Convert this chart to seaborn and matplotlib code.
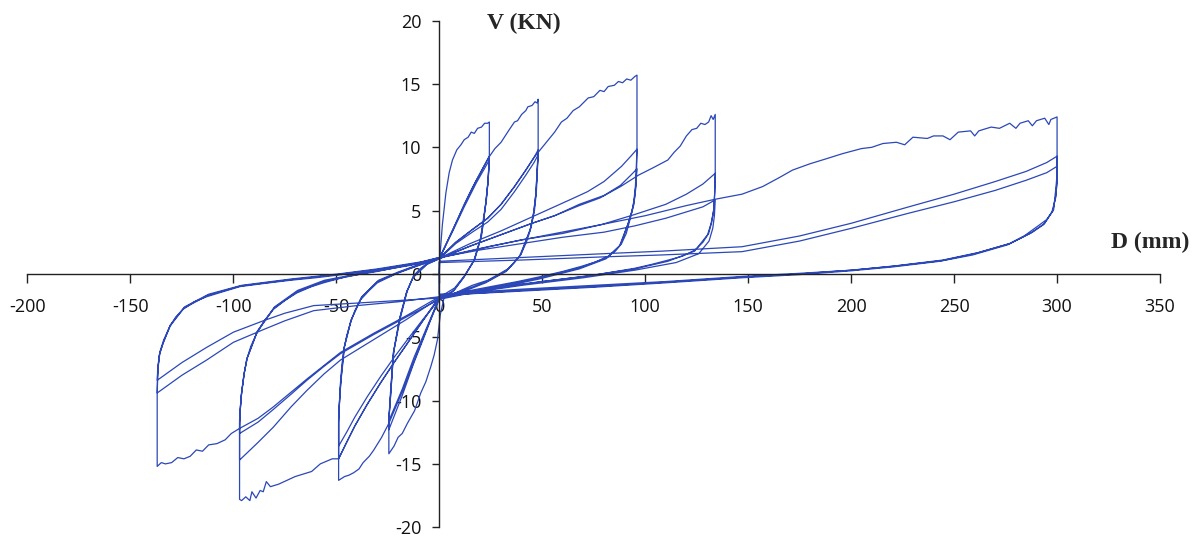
import pandas as pd
import matplotlib
matplotlib.use("Agg")
import matplotlib.pyplot as plt
import seaborn as sns

sns.set_style("white")
plt.rcParams['font.family'] = ['Open Sans', 'DejaVu Sans']
plt.rcParams['axes.unicode_minus'] = False

# --- lecture des points sur la courbe (D en mm, V en kN), cycle par cycle ---
# chaque cycle : chargement +, dechargement, chargement -, dechargement

# palier +24 / -25 mm
cycle_24_1 = [(0, 0), (0.4, 1.6), (1.5, 3.9), (3.2, 6.4), (4.8, 8.0), (6.4, 9.0), (8.5, 9.8), (10.5, 10.2),
              (12.1, 10.6), (14, 10.8), (15.5, 11.2), (17, 11.1), (18.6, 11.5), (20.5, 11.6), (22, 11.9),
              (23.5, 11.9), (24.3, 12.0),
              (24.3, 9.3), (23.7, 7.4), (22.7, 5.8), (21.5, 4.2), (20.2, 2.9), (17, 1.1), (12.1, -0.2),
              (7.2, -1.3), (2.3, -1.9), (0.5, -3.2),
              (-0.9, -5.2), (-2.5, -6.4), (-4.1, -7.3), (-6.5, -8.5), (-9, -9.4), (-12, -10.8), (-15.5, -11.8),
              (-18, -12.6), (-20, -12.9), (-22, -13.6), (-24.5, -14.2),
              (-24.5, -11.6), (-23.7, -9.7), (-22.8, -7.6), (-22, -6.0), (-18.8, -3.4), (-15.5, -1.3),
              (-12.3, -0.1), (-9, 0.45), (-5.8, 0.85), (0, 1.25)]
cycle_24_2 = [(0, 1.25), (4, 2.6), (8, 4.0), (12.1, 5.5), (16, 6.8), (20, 8.0), (24.3, 9.3),
              (23.8, 7.6), (22.9, 5.9), (20.5, 3.0), (17.3, 1.2), (12.4, -0.1), (7.5, -1.1), (2.5, -1.6), (0, -1.8),
              (-6, -4.4), (-12.3, -7.0), (-18, -9.6), (-24.5, -12.3),
              (-24.3, -11.0), (-23.6, -9.5), (-22.3, -6.2), (-19.2, -3.5), (-15.8, -1.4), (-12.6, -0.2),
              (-6, 0.8), (0, 1.2)]
cycle_24_3 = [(0, 1.2), (6, 3.2), (12.1, 5.3), (18, 7.2), (24.3, 9.0),
              (23.6, 7.2), (22.5, 5.5), (20, 2.8), (16.7, 1.0), (11.8, -0.3), (7, -1.3), (2, -1.8), (0, -1.9),
              (-6, -4.2), (-12.3, -6.6), (-18, -9.1), (-24.5, -11.6),
              (-23.9, -9.8), (-22.4, -6.4), (-19.4, -3.6), (-16, -1.5), (-12.8, -0.3), (-6, 0.75), (0, 1.2)]

# palier +48 / -49 mm
cycle_48_1 = [(0, 1.2), (6, 3.3), (12, 5.4), (18, 7.4), (24, 9.2), (27, 9.9), (30, 10.4), (32, 10.9), (34, 11.4),
              (36.5, 12.0), (38, 12.1), (40, 12.6), (42, 12.9), (43, 13.2), (45, 13.3), (46.5, 13.6),
              (47.5, 13.5), (48, 13.8),
              (48, 9.8), (47.6, 8.0), (47.1, 6.4), (46.2, 5.0), (44.6, 3.7), (42.5, 2.6), (39.8, 1.6),
              (36.5, 0.9), (33.3, 0.4), (28, -0.1), (23.5, -0.5), (16, -0.9), (10.5, -1.3), (5, -1.7), (0.3, -1.9),
              (-6, -4.3), (-12.3, -6.9), (-18, -9.3), (-24.5, -11.8), (-28, -12.9), (-31.8, -13.9), (-34, -14.4),
              (-37, -14.9), (-39, -15.4), (-41.6, -15.7), (-44, -15.9), (-46, -16.0), (-48.9, -16.3),
              (-48.9, -11.8), (-48.4, -9.8), (-48, -8.6), (-47.3, -7.2), (-46.4, -6.0), (-45, -4.9),
              (-43.2, -3.9), (-41, -2.9), (-38.3, -2.05), (-34, -1.3), (-30.1, -0.7), (-25, -0.3),
              (-20.4, 0.05), (-12, 0.55), (-5, 0.95), (0, 1.25)]
cycle_48_2 = [(0, 1.25), (8, 2.5), (16, 3.5), (23.5, 4.4), (30, 5.5), (36.5, 6.9), (42, 8.2), (46, 9.2), (48, 9.8),
              (47.5, 8.1), (47, 6.5), (46, 5.0), (44.3, 3.6), (39.5, 1.5), (33, 0.3), (23, -0.6), (10, -1.4), (0, -1.9),
              (-8, -3.7), (-16, -5.6), (-22, -7.0), (-28.5, -8.6), (-35, -10.3), (-41, -12.0), (-45, -13.3),
              (-48.9, -14.6),
              (-48.9, -11.5), (-48.3, -9.6), (-47.8, -8.4), (-46.2, -5.8), (-43, -3.7), (-38, -1.9), (-30, -0.6),
              (-20, 0.1), (-10, 0.7), (0, 1.2)]
cycle_48_3 = [(0, 1.2), (8, 2.4), (16, 3.3), (23.5, 4.1), (30, 5.1), (36.5, 6.5), (42, 7.8), (46, 8.8), (48, 9.4),
              (47.4, 7.8), (46.8, 6.2), (45.7, 4.7), (44, 3.4), (39, 1.4), (32.5, 0.2), (22.5, -0.7), (10, -1.5),
              (0, -2.0),
              (-8, -3.6), (-16, -5.3), (-22, -6.6), (-28.5, -8.1), (-35, -9.7), (-41, -11.3), (-45, -12.5),
              (-48.9, -13.6),
              (-48.9, -11.3), (-48.2, -9.4), (-47.6, -8.2), (-46, -5.7), (-42.7, -3.6), (-37.6, -1.8),
              (-29.5, -0.5), (-20, 0.15), (-10, 0.75), (0, 1.2)]

# palier +96 / -97 mm
cycle_96_1 = [(0, 1.2), (8, 2.5), (16, 3.5), (23.5, 4.4), (30, 5.5), (36.5, 6.9), (42, 8.2), (46, 9.2), (49.5, 9.9),
              (53, 10.6), (56, 11.2), (59.3, 12.0), (62, 12.3), (65, 12.9), (68, 13.2), (72.3, 13.9), (75, 14.0),
              (78, 14.5), (80, 14.4), (82, 14.8), (85, 14.9), (87, 15.2), (89, 15.1), (91, 15.4), (93, 15.3),
              (95, 15.6), (96, 15.7),
              (96, 9.85), (95.8, 8.3), (95.5, 6.9), (94.5, 5.5), (92.6, 4.3), (90.8, 3.2), (88.5, 2.4),
              (85.5, 1.8), (82, 1.4), (76, 0.95), (69, 0.6), (60, 0.2), (49.5, -0.2), (38, -0.6), (25, -1.0),
              (12, -1.4), (0, -1.8),
              (-8, -3.7), (-16, -5.6), (-22, -7.0), (-28.5, -8.6), (-35, -10.3), (-41, -12.0), (-45, -13.3),
              (-48.9, -14.6), (-52, -14.6), (-57.8, -15.0), (-62, -15.6), (-66, -15.8), (-70, -16.0),
              (-74, -16.3), (-78, -16.6), (-82, -16.8), (-84, -16.4), (-85.5, -17.2), (-87, -17.1), (-89, -17.7),
              (-91, -17.2), (-92, -17.9), (-94, -17.6), (-96, -17.9), (-97, -17.8),
              (-97, -11.8), (-96.5, -10.3), (-96, -9.4), (-95, -8.1), (-93.6, -6.8), (-91.5, -5.7),
              (-88.7, -4.7), (-85, -3.7), (-80.6, -2.8), (-75, -2.1), (-69.2, -1.5), (-62, -1.0),
              (-56.2, -0.7), (-45, -0.2), (-30, 0.2), (-15, 0.7), (0, 1.25)]
cycle_96_2 = [(0, 1.25), (15, 2.4), (30, 3.4), (45, 4.5), (56, 5.3), (64, 5.9), (72, 6.5), (80, 7.3), (88.5, 8.5),
              (93, 9.3), (96, 9.85),
              (95.6, 8.2), (95.2, 6.8), (94.2, 5.4), (92.2, 4.2), (88, 2.3), (81.5, 1.3), (68.5, 0.5),
              (49, -0.3), (25, -1.1), (0, -1.9),
              (-16, -3.6), (-32, -5.2), (-48, -6.8), (-56, -7.9), (-64.3, -9.2), (-72, -10.5), (-80.6, -12.1),
              (-88, -13.3), (-97, -14.7),
              (-97, -11.5), (-96.2, -9.6), (-94.8, -7.9), (-93.4, -6.7), (-88.5, -4.6), (-80.3, -2.7),
              (-69, -1.4), (-56, -0.6), (-35, 0.1), (-15, 0.65), (0, 1.2)]
cycle_96_3 = [(0, 1.2), (15, 2.2), (30, 3.1), (45, 4.0), (56, 4.6), (68, 5.5), (80, 6.2), (88, 7.0), (93, 7.8),
              (96, 8.3),
              (95.5, 7.2), (94.8, 6.0), (93.5, 4.9), (91.5, 3.9), (87.5, 2.2), (81, 1.2), (68, 0.4),
              (48.5, -0.4), (25, -1.2), (0, -2.0),
              (-16, -3.4), (-32, -4.8), (-48, -6.3), (-56, -7.3), (-64.3, -8.4), (-72, -9.5), (-80.6, -10.7),
              (-88, -11.7), (-97, -12.6),
              (-96.8, -11.0), (-96, -9.4), (-94.6, -7.7), (-93.2, -6.6), (-88.3, -4.5), (-80, -2.6),
              (-68.8, -1.3), (-55.8, -0.5), (-35, 0.15), (-15, 0.7), (0, 1.2)]

# palier +134 / -137 mm
cycle_134_1 = [(0, 1.2), (15, 2.2), (30, 3.1), (45, 4.0), (56, 4.6), (68, 5.4), (78, 6.0), (88, 6.9), (96.7, 7.8),
               (104, 8.4), (111, 9.0), (114, 9.6), (117, 10.1), (120, 10.9), (122.7, 11.4), (125, 11.5),
               (127, 11.9), (129, 11.8), (130.8, 12.0), (132, 12.5), (133, 12.2), (134, 12.6),
               (134, 7.95), (133.8, 6.5), (133.3, 5.1), (132.3, 4.1), (130.8, 3.2), (128, 2.5), (124.3, 1.9),
               (118, 1.4), (111.3, 1.1), (103, 0.75), (95, 0.45), (75, -0.1), (50, -0.6), (25, -1.2), (0, -1.8),
               (-16, -3.3), (-32, -4.7), (-48, -6.2), (-64.3, -8.3), (-80.6, -10.5), (-88, -11.4), (-97, -12.2),
               (-101, -12.6), (-104, -13.1), (-108, -13.4), (-112, -13.5), (-115, -14.0), (-118, -13.9),
               (-121, -14.4), (-124, -14.6), (-127, -14.5), (-130, -14.9), (-133, -15.0), (-135, -14.9),
               (-137, -15.2),
               (-137, -9.4), (-136.8, -7.6), (-136, -6.4), (-134.2, -5.5), (-131, -4.2), (-128, -3.4),
               (-124.5, -2.8), (-119, -2.2), (-113, -1.8), (-105, -1.4), (-96.8, -1.0), (-85, -0.75),
               (-72.4, -0.5), (-60, -0.3), (-49.7, -0.1), (-30, 0.3), (-9, 0.85), (0, 1.25)]
cycle_134_2 = [(0, 1.25), (20, 2.0), (40, 2.7), (60, 3.2), (78.8, 3.9), (95, 4.7), (110, 5.5), (120, 6.3),
               (128, 7.1), (134, 7.95),
               (133.7, 6.3), (133.2, 5.0), (132, 4.0), (130.3, 3.1), (124, 1.8), (111, 1.0), (95, 0.4),
               (70, -0.2), (40, -0.8), (15, -1.4), (0, -1.8),
               (-20, -2.2), (-40, -2.5), (-61, -2.9), (-75, -3.7), (-85.5, -4.4), (-100, -5.4), (-113, -6.8),
               (-125, -8.0), (-137, -9.4),
               (-136.6, -7.5), (-135.8, -6.3), (-134, -5.4), (-130.7, -4.1), (-124, -2.7), (-112.5, -1.7),
               (-96.5, -0.95), (-72, -0.45), (-49.5, -0.05), (-30, 0.35), (-9, 0.9), (0, 1.3)]
cycle_134_3 = [(0, 1.3), (20, 1.9), (40, 2.4), (60, 2.9), (80, 3.3), (95, 3.8), (110, 4.4), (120, 4.9),
               (128, 5.3), (134, 5.85),
               (133.6, 4.6), (132.8, 3.6), (131, 2.6), (126, 1.6), (115, 0.9), (95, 0.3), (70, -0.3),
               (40, -0.9), (15, -1.5), (0, -1.9),
               (-20, -2.1), (-40, -2.3), (-61, -2.5), (-75, -3.1), (-85.5, -3.7), (-100, -4.6), (-113, -5.8),
               (-125, -7.0), (-137, -8.4),
               (-136.5, -7.2), (-135.6, -6.1), (-133.8, -5.2), (-130.5, -4.0), (-123.7, -2.6), (-112, -1.6),
               (-96, -0.9), (-72, -0.4), (-49, 0.0), (-30, 0.4), (-9, 0.95), (0, 1.3)]

# palier +300 mm (cote positif seulement)
cycle_300_1 = [(0, 1.3), (25, 2.2), (50, 3.0), (78.8, 3.9), (100, 4.6), (120, 5.4), (134, 5.9), (147, 6.3),
               (157, 6.9), (165, 7.6), (171.5, 8.2), (180, 8.7), (188, 9.1), (195.8, 9.5), (205, 9.9),
               (210, 10.0), (215.4, 10.3), (222, 10.4), (226, 10.2), (230, 10.8), (237, 10.7), (240, 10.9),
               (244.6, 10.9), (248, 10.6), (252, 11.2), (258, 11.3), (260, 10.9), (262, 11.3), (268, 11.6),
               (272, 11.5), (277, 11.9), (280, 11.5), (282, 11.9), (286, 12.1), (288, 11.7), (290, 12.1),
               (294, 12.3), (296, 11.8), (297, 12.2), (300, 12.4),
               (300, 9.3), (300, 7.9), (299.5, 6.9), (298.3, 5.05), (295, 4.3), (290, 3.7), (284, 3.0),
               (277, 2.4), (262, 1.7), (244.6, 1.1), (222, 0.65), (200.7, 0.3), (175, 0.05), (147, -0.2),
               (110, -0.6), (75, -0.9), (40, -1.2), (0, -1.6)]
cycle_300_2 = [(0, 1.0), (40, 1.3), (80, 1.6), (108, 1.8), (147, 2.15), (175, 3.0), (200, 4.0), (228, 5.3),
               (250, 6.3), (270, 7.3), (285, 8.1), (295, 8.8), (300, 9.3),
               (300, 7.5), (299.4, 6.2), (298, 5.0), (294, 4.0), (288, 3.3), (277, 2.4), (260, 1.6),
               (244, 1.05), (220, 0.6), (200, 0.3), (175, 0.0), (147, -0.25), (110, -0.65), (75, -1.0),
               (40, -1.3), (0, -1.7)]
cycle_300_3 = [(0, 0.9), (40, 1.1), (80, 1.35), (108, 1.5), (147, 1.76), (175, 2.6), (200, 3.6), (228, 4.8),
               (250, 5.7), (270, 6.6), (285, 7.4), (295, 8.0), (300, 8.5),
               (300, 7.2), (299.3, 6.0), (297.5, 4.9), (293.5, 3.9), (287, 3.2), (276, 2.3), (259, 1.5),
               (243, 1.0), (220, 0.55), (200, 0.25), (175, -0.05), (147, -0.3), (110, -0.7), (75, -1.05),
               (40, -1.35), (0, -1.7)]

cycles = [cycle_24_1, cycle_24_2, cycle_24_3, cycle_48_1, cycle_48_2, cycle_48_3,
          cycle_96_1, cycle_96_2, cycle_96_3, cycle_134_1, cycle_134_2, cycle_134_3,
          cycle_300_1, cycle_300_2, cycle_300_3]

x_ticks = [-200, -150, -100, -50, 0, 50, 100, 150, 200, 250, 300, 350]
y_ticks = [-20, -15, -10, -5, 0, 5, 10, 15, 20]

# tableau : un seul trace continu, dans l'ordre du chargement
pts = [p for c in cycles for p in c]
df = pd.DataFrame(pts, columns=["D", "V"])

fig = plt.figure(figsize=(11.99, 5.39), dpi=100)
ax = fig.add_axes([0.0229, 0.0219, 0.9446, 0.9397])

sns.lineplot(data=df, x="D", y="V", sort=False, estimator=None, color="#2b47b8", linewidth=0.9, ax=ax)

ax.set_xlim(-200, 350)
ax.set_ylim(-20, 20)
ax.set_xticks(x_ticks)
ax.set_yticks(y_ticks)
ax.set_xticklabels([str(t) for t in x_ticks])
ax.set_yticklabels([str(t) for t in y_ticks])
ax.set_xlabel("")
ax.set_ylabel("")

# axes qui se croisent a l'origine
ax.spines["left"].set_position(("data", 0))
ax.spines["bottom"].set_position(("data", 0))
ax.spines["top"].set_visible(False)
ax.spines["right"].set_visible(False)
for s in ["left", "bottom"]:
    ax.spines[s].set_color("#222222")
    ax.spines[s].set_linewidth(1.0)

# le style "white" coupe les graduations : on les remet
ax.tick_params(axis="x", bottom=True, direction="out", length=6.5, width=1, color="#222222", pad=11,
               labelsize=13, labelcolor="#111111")
ax.tick_params(axis="y", left=True, direction="out", length=5, width=1, color="#222222", pad=8,
               labelsize=13, labelcolor="#111111")

ax.text(41, 19.75, "V (KN)", ha="center", va="center", fontsize=17, fontweight="bold",
        family="Liberation Serif", clip_on=False)
ax.text(345, 2.45, "D (mm)", ha="center", va="center", fontsize=17, fontweight="bold",
        family="Liberation Serif", clip_on=False)

plt.savefig("out.png", dpi=100)
